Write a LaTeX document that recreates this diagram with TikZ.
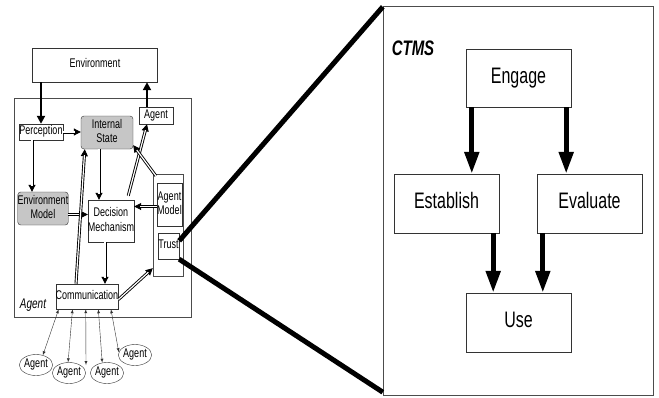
\documentclass[tikz,border=0pt]{standalone}
\usepackage{fontspec}
\setmainfont{Liberation Sans}
\usetikzlibrary{positioning,arrows.meta,shapes.geometric,calc}
\newcommand{\vt}[1]{\scalebox{1}[1.4]{\begin{tabular}{@{}c@{}}#1\end{tabular}}}
\tikzset{>=latex,
  box/.style={draw=black!80, inner sep=0pt, fill=white},
  greybox/.style={box, rounded corners=3pt, fill=gray!45},
  frame/.style={draw=black!70, inner sep=0pt},
  small/.style={font=\fontsize{9}{10.5}\selectfont},
  big/.style={font=\fontsize{16}{18}\selectfont},
  thickarr/.style={line width=2.5pt, -{Triangle[length=8pt,width=8pt]}},
  dblarr/.style={line width=0.9pt, -{Triangle[length=7pt,width=7pt]},
    postaction={draw, -, double, double distance=1.2pt, shorten >=6pt}},
  bigarr/.style={line width=5pt, -{Triangle[length=22pt,width=14pt]}},
  agentell/.style={draw=black!80, ellipse, inner sep=0pt, minimum width=33pt, minimum height=21pt, small}
}
\begin{document}
\begin{tikzpicture}[x=1pt, y=-1pt]
  \useasboundingbox (0,0) rectangle (659,397);
  % left: agent architecture
  \node[frame, minimum width=177pt, minimum height=219pt] (agentbox) at (102.5,207.5) {};
  \node[box, small, minimum width=125pt, minimum height=34pt] (env) at (95,65) {\vt{Environment}};
  \node[box, small, minimum width=44pt, minimum height=16pt] (perc) at (41,132) {\vt{Perception}};
  \node[greybox, small, minimum width=52pt, minimum height=33pt] (istate) at (107,132.5) {\vt{Internal\\State}};
  \node[box, small, minimum width=34pt, minimum height=17pt] (agenttop) at (156,115.5) {\vt{Agent}};
  \node[greybox, small, minimum width=44pt, minimum height=33pt] (envmodel) at (43,208.5) {\vt{Environment\\Model}};
  \node[box, small, minimum width=44pt, minimum height=42pt] (decision) at (111,221) {\vt{Decision\\Mechanism}};
  \node[frame, minimum width=30pt, minimum height=102pt] (trustbox) at (168,225) {};
  \node[box, small, minimum width=23pt, minimum height=43pt] (amodel) at (169.5,204.5) {\vt{Agent\\Model}};
  \node[box, small, minimum width=21pt, minimum height=26pt] (trust) at (168.5,246) {\vt{Trust}};
  \node[box, small, minimum width=56pt, minimum height=25pt] (comm) at (87,296.5) {\vt{Communication}};
  \node[font=\fontsize{10}{12}\selectfont\itshape] (agentlbl) at (33,305) {\scalebox{1}[1.4]{Agent}};

  \node[agentell] (a1) at (36,365) {\vt{Agent}};
  \node[agentell] (a2) at (69,373) {\vt{Agent}};
  \node[agentell] (a3) at (107,373) {\vt{Agent}};
  \node[agentell] (a4) at (135,355) {\vt{Agent}};
  \coordinate (a0) at (86,365);

  \draw[thickarr] (perc.north |- env.south) -- (perc.north);
  \draw[thickarr] ([xshift=-9pt]agenttop.north) -- ([xshift=-9pt]agenttop.north |- env.south);
  \draw[dblarr] (perc.east) -- (istate.west |- perc.east);
  \draw[dblarr] ([xshift=-11pt]envmodel.north |- perc.south) -- ([xshift=-11pt]envmodel.north);
  \draw[dblarr] ([xshift=-8pt]istate.south) -- ([xshift=-8pt]istate.south |- decision.north);
  \draw[dblarr] ([yshift=-6pt]envmodel.east) -- ([yshift=-6pt]envmodel.east -| decision.west);
  \draw[dblarr] ([xshift=-11pt]comm.north) -- ([xshift=4pt]istate.south west);
  \draw[dblarr] ([xshift=-6pt]decision.south) -- ([xshift=-6pt]decision.south |- comm.north);
  \draw[dblarr] ([xshift=-6pt, yshift=4pt]decision.north east) -- ([xshift=-9pt]agenttop.south);
  \draw[dblarr] ([xshift=3pt, yshift=-2pt]trustbox.north west) -- ([yshift=4pt]istate.south east);
  \draw[dblarr] ([yshift=-2pt]amodel.west) -- ([yshift=-2pt]amodel.west -| decision.east);
  \draw[dblarr] ([yshift=-3pt]comm.east) -- ([yshift=8pt]trustbox.south west);

  \draw[<->, black!80] ($(comm.south west)!0.05!(comm.south east)$) -- (a1.55);
  \draw[<->, black!80] ($(comm.south west)!0.27!(comm.south east)$) -- (a2.95);
  \draw[<->, black!80] ($(comm.south west)!0.48!(comm.south east)$) -- (a0);
  \draw[<->, black!80] ($(comm.south west)!0.68!(comm.south east)$) -- (a3.115);
  \draw[<->, black!80] ($(comm.south west)!0.88!(comm.south east)$) -- (a4.170);

  % right: CTMS
  \node[frame, minimum width=270pt, minimum height=389pt] (ctms) at (518,200.5) {};
  \node[font=\fontsize{15}{18}\selectfont\bfseries\itshape] (ctmslbl) at (413,48) {\scalebox{1}[1.4]{CTMS}};
  \node[box, big, minimum width=105pt, minimum height=58pt] (engage) at (518.5,78) {\vt{Engage}};
  \node[box, big, minimum width=105pt, minimum height=59pt] (establish) at (446.5,203.5) {\vt{Establish}};
  \node[box, big, minimum width=105pt, minimum height=59pt, right of=establish, node distance=143pt] (evaluate) {\vt{Evaluate}};
  \node[box, big, minimum width=105pt, minimum height=59pt, below of=engage, node distance=244.5pt] (use) {\vt{Use}};

  \draw[bigarr] ([xshift=6pt]engage.south west) -- ([xshift=6pt]engage.south west |- establish.north);
  \draw[bigarr] ([xshift=-5pt]engage.south east) -- ([xshift=-5pt]engage.south east |- evaluate.north);
  \draw[bigarr] ([xshift=-6pt]establish.south east) -- ([xshift=-6pt]establish.south east |- use.north);
  \draw[bigarr] ([xshift=6pt]evaluate.south west) -- ([xshift=6pt]evaluate.south west |- use.north);

  % zoom lines
  \draw[line width=5pt] ([yshift=-8pt]trust.north east) -- ([yshift=-1pt]ctms.north west);
  \draw[line width=5pt] (trust.south east) -- ([yshift=3pt]ctms.south west);
\end{tikzpicture}
\end{document}
